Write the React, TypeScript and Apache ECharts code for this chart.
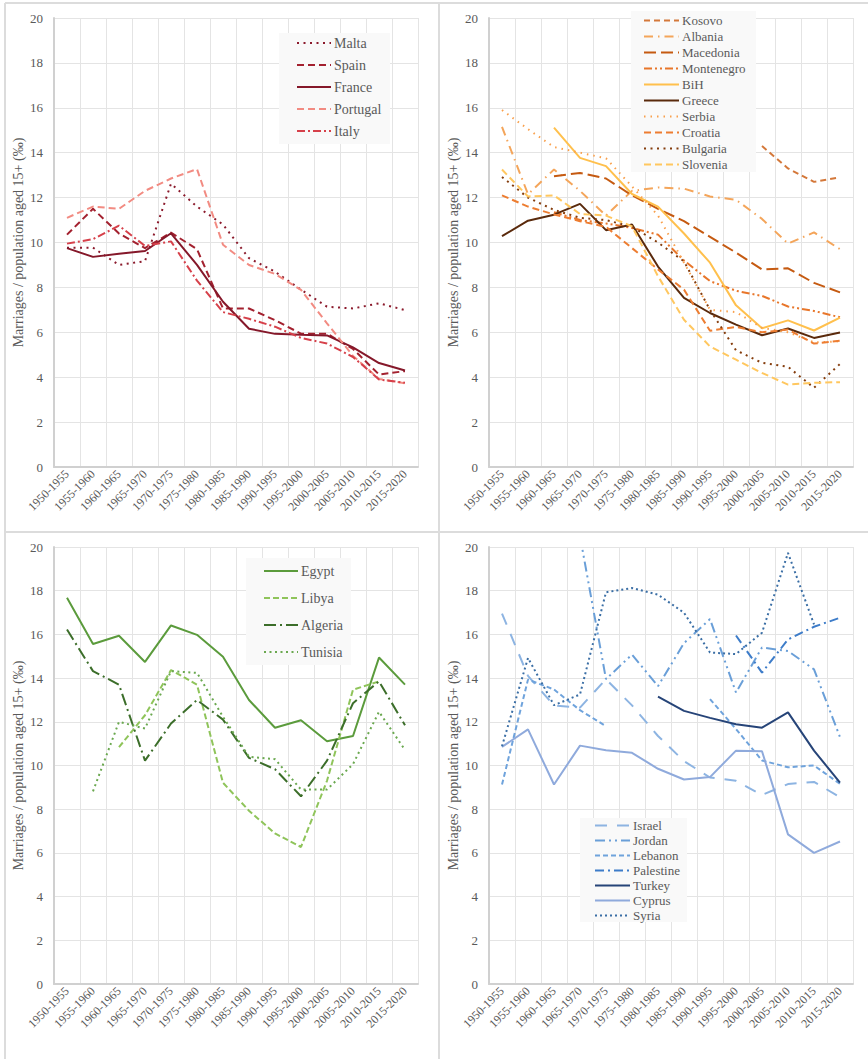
import React, { useEffect, useRef } from "react";
import * as echarts from "echarts";

const periods = [
  "1950-1955", "1955-1960", "1960-1965", "1965-1970", "1970-1975", "1975-1980", "1980-1985",
  "1985-1990", "1990-1995", "1995-2000", "2000-2005", "2005-2010", "2010-2015", "2015-2020",
];
const yTitle = "Marriages / population aged 15+ (‰)";
const n = null;

// Panel 1 – Western Mediterranean
const malta = [9.77, 9.77, 9.0, 9.17, 12.62, 11.6, 10.8, 9.3, 8.7, 7.9, 7.14, 7.06, 7.29, 6.99];
const spain = [10.35, 11.5, 10.4, 9.75, 10.44, 9.7, 7.06, 7.06, 6.54, 5.94, 5.94, 5.26, 4.12, 4.27];
const france = [9.75, 9.36, 9.5, 9.62, 10.41, 9.0, 7.36, 6.16, 5.93, 5.89, 5.86, 5.33, 4.63, 4.3];
const portugal = [11.1, 11.6, 11.5, 12.3, 12.85, 13.27, 9.9, 9.0, 8.6, 7.89, 6.4, 4.95, 3.92, 3.73];
const italy = [9.95, 10.15, 10.75, 9.85, 10.05, 8.3, 6.9, 6.6, 6.25, 5.75, 5.5, 4.9, 3.9, 3.75];

// Panel 2 – Balkans
const kosovo = [n, n, n, n, n, n, n, n, n, n, 14.3, 13.3, 12.7, 12.9];
const albania = [15.15, 12.15, 13.25, 12.3, 11.2, 12.3, 12.45, 12.4, 12.05, 11.9, 11.05, 9.95, 10.45, 9.7];
const macedonia = [n, n, 12.95, 13.1, 12.85, 12.1, 11.5, 10.95, 10.25, 9.55, 8.8, 8.85, 8.2, 7.78];
const montenegro = [n, n, 11.35, 11.0, 10.85, 10.65, 10.35, 9.2, 8.28, 7.85, 7.62, 7.15, 6.95, 6.67];
const bih = [n, n, 15.12, 13.77, 13.4, 12.16, 11.6, 10.4, 9.1, 7.2, 6.18, 6.53, 6.08, 6.65];
const greece = [10.28, 10.97, 11.24, 11.72, 10.55, 10.8, 8.93, 7.53, 6.86, 6.34, 5.87, 6.17, 5.75, 5.99];
const serbia = [15.9, 15.05, 14.25, 14.0, 13.75, 12.5, 11.2, 9.1, 7.0, 6.9, 6.2, 6.0, 5.55, 5.6];
const croatia = [12.1, 11.6, 11.25, 10.95, 10.7, 9.75, 8.8, 7.9, 6.07, 6.24, 6.0, 6.12, 5.5, 5.62];
const bulgaria = [12.92, 12.0, 11.45, 11.1, 11.0, 10.7, 10.0, 9.16, 7.0, 5.2, 4.64, 4.46, 3.53, 4.59];
const slovenia = [13.25, 12.05, 12.1, 11.27, 11.2, 10.72, 8.5, 6.56, 5.37, 4.78, 4.19, 3.67, 3.75, 3.78];

// Panel 3 – North Africa
const egypt = [17.68, 15.56, 15.94, 14.74, 16.41, 15.98, 14.98, 13.0, 11.73, 12.07, 11.11, 11.35, 14.94, 13.7];
const libya = [n, n, 10.84, 12.3, 14.37, 13.7, 9.21, 7.93, 6.89, 6.27, 9.3, 13.47, 13.85, n];
const algeria = [16.22, 14.32, 13.7, 10.22, 11.92, 13.0, 12.1, 10.35, 9.83, 8.59, 10.22, 12.85, 13.85, 11.84];
const tunisia = [n, 8.82, 12.0, 11.69, 14.32, 14.24, 12.23, 10.4, 10.29, 8.9, 8.9, 10.06, 12.46, 10.71];

// Panel 4 – Middle East
const israel = [16.95, 14.1, 12.75, 12.65, 13.95, 12.75, 11.35, 10.2, 9.45, 9.3, 8.65, 9.15, 9.25, 8.55];
const jordan = [n, n, n, 20.5, 13.95, 15.08, 13.63, 15.6, 16.7, 13.34, 15.4, 15.24, 14.4, 11.3];
const lebanon = [9.13, 13.93, 13.48, 12.53, 11.8, n, n, n, 13.04, 11.67, 10.23, 9.92, 10.0, 9.16];
const palestine = [n, n, n, n, n, n, n, n, n, 15.95, 14.25, 15.77, 16.35, 16.76];
const turkey = [n, n, n, n, n, n, 13.15, 12.5, 12.18, 11.89, 11.73, 12.43, 10.68, 9.22];
const cyprus = [10.85, 11.65, 9.13, 10.91, 10.7, 10.58, 9.85, 9.36, 9.47, 10.68, 10.65, 6.85, 6.0, 6.52];
const syria = [10.88, 14.92, 12.76, 13.25, 17.93, 18.12, 17.82, 16.99, 15.17, 15.1, 16.08, 19.73, 16.46, n];

const FONT = "'Liberation Serif', 'Times New Roman', serif";
const TXT = "#595959";

type S = { name: string; data: (number | null)[]; color: string; dash: number[] | null; width?: number };

const panels: { series: S[]; grid: any; legend: any; box: number[] }[] = [
  {
    grid: { left: 54, top: 18, width: 364, height: 449 },
    legend: { left: 296, top: 36, itemGap: 8, itemHeight: 14, itemWidth: 34, fontSize: 14 },
    box: [279, 33, 111, 111],
    series: [
      { name: "Malta", data: malta, color: "#8b1a2c", dash: [2, 4.5] },
      { name: "Spain", data: spain, color: "#a3212f", dash: [7, 4] },
      { name: "France", data: france, color: "#85182a", dash: null },
      { name: "Portugal", data: portugal, color: "#f28b82", dash: [7, 4] },
      { name: "Italy", data: italy, color: "#d6404a", dash: [8, 3, 2, 3] },
    ],
  },
  {
    grid: { left: 489, top: 18, width: 364, height: 449 },
    legend: { left: 643, top: 14, itemGap: 3, itemHeight: 12, itemWidth: 35, fontSize: 13 },
    box: [631, 11, 125, 161],
    series: [
      { name: "Kosovo", data: kosovo, color: "#d4783a", dash: [6, 4] },
      { name: "Albania", data: albania, color: "#f4a55a", dash: [9, 5, 1.5, 5] },
      { name: "Macedonia", data: macedonia, color: "#c55a11", dash: [12, 5] },
      { name: "Montenegro", data: montenegro, color: "#e8762a", dash: [8, 3, 2, 3, 2, 3] },
      { name: "BiH", data: bih, color: "#ffc04d", dash: null },
      { name: "Greece", data: greece, color: "#5a2a0c", dash: null },
      { name: "Serbia", data: serbia, color: "#f9a04c", dash: [1.5, 5] },
      { name: "Croatia", data: croatia, color: "#ed7d31", dash: [7, 4] },
      { name: "Bulgaria", data: bulgaria, color: "#843c0c", dash: [2, 4.5] },
      { name: "Slovenia", data: slovenia, color: "#ffc75f", dash: [7, 4] },
    ],
  },
  {
    grid: { left: 54, top: 547, width: 364, height: 437 },
    legend: { left: 263, top: 564, itemGap: 13, itemHeight: 14, itemWidth: 34, fontSize: 14 },
    box: [246, 558, 105, 107],
    series: [
      { name: "Egypt", data: egypt, color: "#5b9b3c", dash: null },
      { name: "Libya", data: libya, color: "#8fc45a", dash: [6, 3] },
      { name: "Algeria", data: algeria, color: "#3c6e2a", dash: [12, 4, 2, 4] },
      { name: "Tunisia", data: tunisia, color: "#6aa84f", dash: [2, 3.5] },
    ],
  },
  {
    grid: { left: 489, top: 547, width: 364, height: 437 },
    legend: { left: 594, top: 819, itemGap: 2, itemHeight: 12, itemWidth: 35, fontSize: 13 },
    box: [580, 818, 107, 104],
    series: [
      { name: "Israel", data: israel, color: "#8db4e2", dash: [12, 10] },
      { name: "Jordan", data: jordan, color: "#6a9fd8", dash: [10, 4, 2, 4, 2, 4] },
      { name: "Lebanon", data: lebanon, color: "#6fa3dc", dash: [5, 3] },
      { name: "Palestine", data: palestine, color: "#3d7cc9", dash: [9, 4, 2, 4] },
      { name: "Turkey", data: turkey, color: "#264478", dash: null },
      { name: "Cyprus", data: cyprus, color: "#8faadc", dash: null },
      { name: "Syria", data: syria, color: "#3a6ea5", dash: [2, 3] },
    ],
  },
];

export default function App() {
  const ref = useRef<HTMLDivElement>(null);
  useEffect(() => {
    if (!ref.current) return;
    const chart = echarts.init(ref.current, undefined, { renderer: "svg" });
    const grids: any[] = [];
    const xAxes: any[] = [];
    const yAxes: any[] = [];
    const series: any[] = [];
    const legends: any[] = [];
    const graphics: any[] = [];
    panels.forEach((p, i) => {
      grids.push({ ...p.grid, containLabel: false });
      xAxes.push({
        type: "category",
        gridIndex: i,
        data: periods,
        boundaryGap: true,
        axisTick: { show: false },
        axisLine: { show: true, lineStyle: { color: "#d0d0d0", width: 2 } },
        axisLabel: { interval: 0, rotate: 45, color: TXT, fontSize: 12, fontFamily: FONT, margin: 5 },
        splitLine: { show: true, interval: 0, lineStyle: { color: "#e4e4e4", width: 1 } },
      });
      yAxes.push({
        type: "value",
        gridIndex: i,
        min: 0,
        max: 20,
        interval: 2,
        name: yTitle,
        nameLocation: "middle",
        nameGap: 29,
        nameTextStyle: { color: TXT, fontSize: 14, fontFamily: FONT },
        axisLine: { show: true, lineStyle: { color: "#d0d0d0", width: 2 } },
        axisTick: { show: false },
        axisLabel: { color: TXT, fontSize: 13, fontFamily: FONT, margin: 11 },
        splitLine: { show: true, lineStyle: { color: "#e4e4e4", width: 1 } },
      });
      p.series.forEach((s) => {
        series.push({
          type: "line",
          name: s.name,
          xAxisIndex: i,
          yAxisIndex: i,
          data: s.data,
          symbol: "none",
          connectNulls: false,
          color: s.color,
          lineStyle: { color: s.color, width: s.width ?? 2, type: s.dash ?? "solid", cap: "butt" },
          itemStyle: { color: s.color },
          z: 2,
        });
      });
      legends.push({
        orient: "vertical",
        left: p.legend.left,
        top: p.legend.top,
        padding: 0,
        itemGap: p.legend.itemGap,
        itemWidth: p.legend.itemWidth,
        itemHeight: p.legend.itemHeight,
        data: p.series.map((s) => s.name),
        itemStyle: { opacity: 0, borderWidth: 0 },
        textStyle: { color: TXT, fontSize: p.legend.fontSize, fontFamily: FONT, padding: [0, 0, 0, -2] },
        selectedMode: false,
        z: 5,
      });
      graphics.push({
        type: "rect",
        shape: { x: p.box[0], y: p.box[1], width: p.box[2], height: p.box[3] },
        style: { fill: "#f9f9f9" },
        z: 3,
        silent: true,
      });
    });
    const border = { stroke: "#dcdcdc", lineWidth: 2 };
    graphics.push(
      { type: "line", shape: { x1: 5, y1: 3, x2: 868, y2: 3 }, style: border, z: 1 },
      { type: "line", shape: { x1: 5, y1: 3, x2: 5, y2: 1059 }, style: border, z: 1 },
      { type: "line", shape: { x1: 439, y1: 3, x2: 439, y2: 1059 }, style: border, z: 1 },
      { type: "line", shape: { x1: 5, y1: 532, x2: 868, y2: 532 }, style: border, z: 1 }
    );
    chart.setOption({
      animation: false,
      backgroundColor: "#ffffff",
      textStyle: { fontFamily: FONT },
      grid: grids,
      xAxis: xAxes,
      yAxis: yAxes,
      legend: legends,
      series,
      graphic: graphics,
    });
    return () => chart.dispose();
  }, []);
  return (
    <div
      ref={ref}
      style={{ position: "absolute", left: 0, top: 0, width: 868, height: 1059, background: "#fff" }}
    />
  );
}
